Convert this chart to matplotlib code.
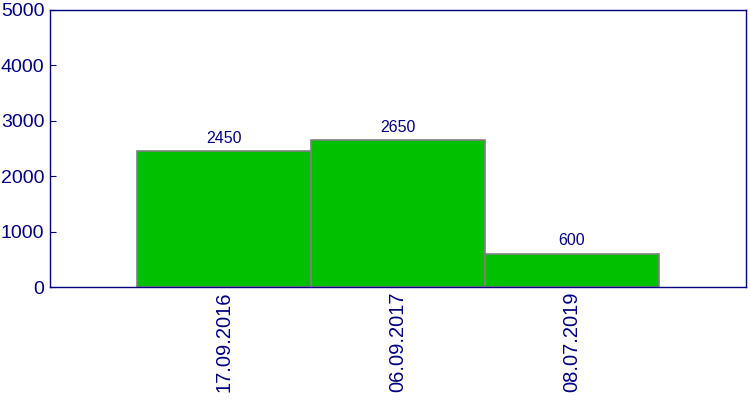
import matplotlib
matplotlib.use("Agg")
import matplotlib.pyplot as plt

# data
dates = ['17.09.2016', '06.09.2017', '08.07.2019']
values = [2450, 2650, 600]

navy = '#000080'
plt.rcParams['font.family'] = ['Liberation Sans', 'DejaVu Sans']

fig = plt.figure(figsize=(7.5, 4), dpi=100)
ax = fig.add_axes([50 / 750, 113 / 400, 696 / 750, 277 / 400])

pos = list(range(len(dates)))
bars = ax.bar(pos, values, width=1.0, color='#00c000', edgecolor='#808080', linewidth=1.2)

for b, v in zip(bars, values):
    ax.annotate(str(v), (b.get_x() + b.get_width() / 2, v), xytext=(0, 4),
                textcoords='offset points', ha='center', va='bottom',
                color=navy, fontsize=11.5)

ax.set_xlim(-1, 3)
ax.set_ylim(0, 5000)
ax.set_yticks([0, 1000, 2000, 3000, 4000, 5000])
ax.set_xticks(pos)
ax.set_xticklabels(dates, rotation=90)

for s in ax.spines.values():
    s.set_color(navy)
    s.set_linewidth(1.0)
ax.tick_params(axis='y', direction='in', length=4, color=navy, labelcolor=navy, labelsize=14, pad=4)
ax.tick_params(axis='x', length=0, labelcolor=navy, labelsize=14.5, pad=3)

fig.savefig('out.png', dpi=100)
